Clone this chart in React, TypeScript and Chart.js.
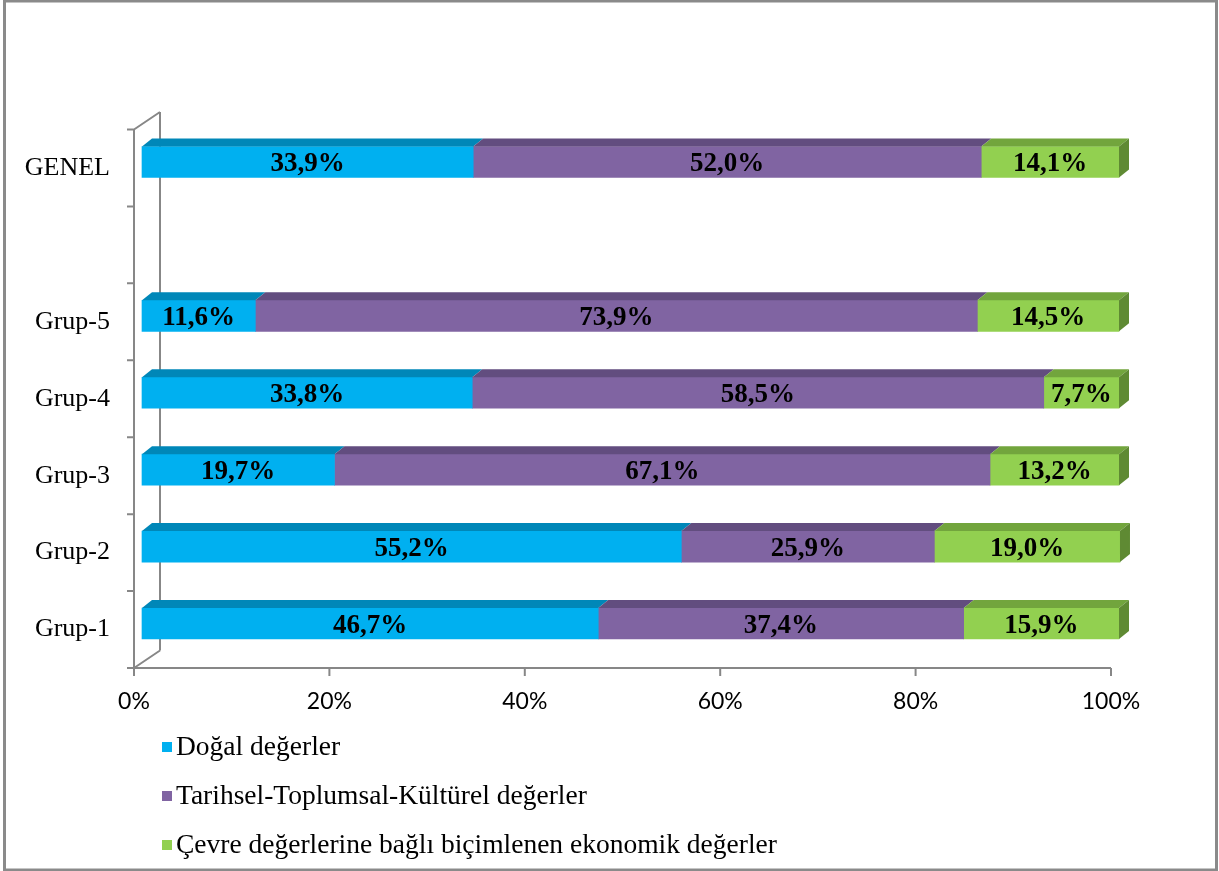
import React, { useEffect, useRef } from 'react';
import { Chart, registerables } from 'chart.js';

Chart.register(...registerables);

const categories = ['GENEL', '', 'Grup-5', 'Grup-4', 'Grup-3', 'Grup-2', 'Grup-1'];
const dogal = [33.9, null, 11.6, 33.8, 19.7, 55.2, 46.7];
const tarihsel = [52.0, null, 73.9, 58.5, 67.1, 25.9, 37.4];
const cevre = [14.1, null, 14.5, 7.7, 13.2, 19.0, 15.9];
const seriesNames = [
  'Doğal değerler',
  'Tarihsel-Toplumsal-Kültürel değerler',
  'Çevre değerlerine bağlı biçimlenen ekonomik değerler',
];
const xTickValues = [0, 20, 40, 60, 80, 100];

const FRONT = ['#00B0F0', '#8064A2', '#92D050'];
const TOP = ['#0087B8', '#624D7F', '#72A53D'];
const SIDE = ['#006F99', '#4F3E66', '#5F8A33'];

const SERIF = "'Liberation Serif', 'Times New Roman', serif";
const FRAME = '#878787';
const DX = 10;
const DY = -8;
const OX = -8; // front plane offset from bar plane
const OY = 6;
const WALL_DX = 26;
const WALL_DY = -17.5;

const fmt = (v: number) => v.toFixed(1).replace('.', ',') + '%';

const framePlugin = {
  id: 'frame3d',
  beforeDatasetsDraw(chart: any) {
    const { ctx, chartArea, scales } = chart;
    const xs = scales.x;
    const x0 = xs.getPixelForValue(0) + OX;
    const x1 = xs.getPixelForValue(100) + OX;
    const yt = chartArea.top + OY;
    const yb = chartArea.bottom + OY;
    ctx.save();
    ctx.strokeStyle = FRAME;
    ctx.lineWidth = 2;
    ctx.beginPath();
    ctx.moveTo(x0 + WALL_DX, yt + WALL_DY);
    ctx.lineTo(x0 + WALL_DX, yb + WALL_DY);
    ctx.moveTo(x0, yt);
    ctx.lineTo(x0 + WALL_DX, yt + WALL_DY);
    ctx.moveTo(x0, yb);
    ctx.lineTo(x0 + WALL_DX, yb + WALL_DY);
    ctx.moveTo(x0, yt);
    ctx.lineTo(x0, yb);
    ctx.moveTo(x0, yb);
    ctx.lineTo(x1, yb);
    const n = categories.length;
    for (let k = 0; k <= n; k++) {
      const y = yt + (k * (yb - yt)) / n;
      ctx.moveTo(x0 - 7, y);
      ctx.lineTo(x0, y);
    }
    xTickValues.forEach((v) => {
      const x = xs.getPixelForValue(v) + OX;
      ctx.moveTo(x, yb);
      ctx.lineTo(x, yb + 8);
    });
    ctx.stroke();
    ctx.restore();
  },
  afterDatasetsDraw(chart: any) {
    const { ctx } = chart;
    const nds = chart.data.datasets.length;
    ctx.save();
    for (let d = 0; d < nds; d++) {
      const meta = chart.getDatasetMeta(d);
      meta.data.forEach((el: any, i: number) => {
        const v = chart.data.datasets[d].data[i];
        if (v == null) return;
        const p = el.getProps(['x', 'y', 'base', 'height'], true);
        const left = Math.min(p.x, p.base);
        const right = Math.max(p.x, p.base);
        const top = p.y - p.height / 2;
        const bottom = p.y + p.height / 2;
        ctx.fillStyle = TOP[d];
        ctx.beginPath();
        ctx.moveTo(left, top);
        ctx.lineTo(right, top);
        ctx.lineTo(right + DX, top + DY);
        ctx.lineTo(left + DX, top + DY);
        ctx.closePath();
        ctx.fill();
        if (d === nds - 1) {
          ctx.fillStyle = SIDE[d];
          ctx.beginPath();
          ctx.moveTo(right, top);
          ctx.lineTo(right + DX, top + DY);
          ctx.lineTo(right + DX, bottom + DY);
          ctx.lineTo(right, bottom);
          ctx.closePath();
          ctx.fill();
        }
      });
    }
    ctx.fillStyle = '#000';
    ctx.font = `bold 27px ${SERIF}`;
    ctx.textAlign = 'center';
    ctx.textBaseline = 'middle';
    for (let d = 0; d < nds; d++) {
      const meta = chart.getDatasetMeta(d);
      meta.data.forEach((el: any, i: number) => {
        const v = chart.data.datasets[d].data[i];
        if (v == null) return;
        const p = el.getProps(['x', 'y', 'base'], true);
        ctx.fillText(fmt(v), (p.x + p.base) / 2, p.y + 2);
      });
    }
    ctx.restore();
  },
  afterDraw(chart: any) {
    const { ctx } = chart;
    ctx.save();
    ctx.font = `27.5px ${SERIF}`;
    ctx.textAlign = 'left';
    ctx.textBaseline = 'middle';
    chart.data.datasets.forEach((ds: any, i: number) => {
      const y = 747 + i * 49;
      ctx.fillStyle = FRONT[i];
      ctx.fillRect(162, y - 5, 10, 10);
      ctx.fillStyle = '#000';
      ctx.fillText(ds.label, 176, y + 1);
    });
    ctx.strokeStyle = '#8a8a8a';
    ctx.lineWidth = 3;
    ctx.strokeRect(4.5, 1, 1212, 869);
    ctx.restore();
  },
};

export default function App() {
  const ref = useRef<HTMLCanvasElement | null>(null);
  useEffect(() => {
    if (!ref.current) return;
    const chart = new Chart(ref.current, {
      type: 'bar',
      data: {
        labels: categories,
        datasets: [dogal, tarihsel, cevre].map((data, i) => ({
          label: seriesNames[i],
          data,
          backgroundColor: FRONT[i],
          borderWidth: 0,
          barThickness: 31,
          clip: false,
        })),
      },
      options: {
        indexAxis: 'y',
        animation: false,
        responsive: true,
        maintainAspectRatio: false,
        layout: { padding: { left: 0, right: 100, top: 123.5, bottom: 0 } },
        plugins: {
          legend: { display: false },
          tooltip: { enabled: false },
          title: { display: false },
        },
        scales: {
          x: {
            type: 'linear',
            stacked: true,
            min: 0,
            max: 100,
            grid: { display: false, drawTicks: false },
            border: { display: false },
            afterFit: (s: any) => {
              s.height = 209;
            },
            ticks: {
              stepSize: 20,
              padding: 26,
              labelOffset: OX,
              color: '#000',
              font: { family: "Lato, 'Noto Sans', sans-serif", size: 23 },
              callback: (v: any) => v + '%',
            },
          },
          y: {
            type: 'category',
            stacked: true,
            grid: { display: false, drawTicks: false },
            border: { display: false },
            afterFit: (s: any) => {
              s.width = 142;
            },
            ticks: {
              autoSkip: false,
              padding: 32,
              labelOffset: OY,
              color: '#000',
              font: { family: SERIF, size: 26 },
            },
          },
        },
      },
      plugins: [framePlugin],
    } as any);
    return () => chart.destroy();
  }, []);
  return (
    <div style={{ position: 'fixed', left: 0, top: 0, width: 1219, height: 871, background: '#fff' }}>
      <canvas ref={ref} />
    </div>
  );
}
